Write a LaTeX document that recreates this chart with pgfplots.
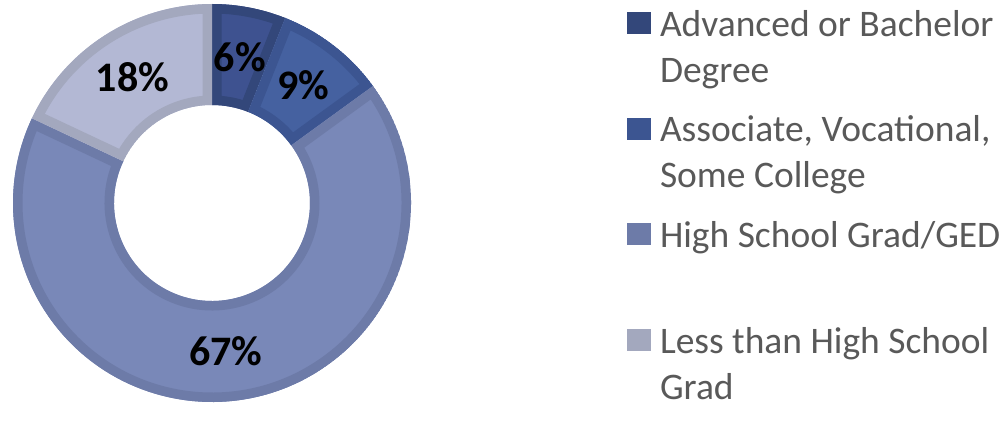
\documentclass[border=0pt]{standalone}
\usepackage{pgfplots}
\pgfplotsset{compat=1.18}
\usepackage{pgfplotstable}
\usepackage{fontspec}
\setmainfont{Carlito}
\definecolor{fill0}{HTML}{3E5290}
\definecolor{edge0}{HTML}{33477A}
\definecolor{fill1}{HTML}{4561A0}
\definecolor{edge1}{HTML}{3C5591}
\definecolor{fill2}{HTML}{7988B8}
\definecolor{edge2}{HTML}{6D7BA8}
\definecolor{fill3}{HTML}{B3B8D4}
\definecolor{edge3}{HTML}{A3A8BE}
\definecolor{textgray}{HTML}{595959}
\pgfplotstableread{
value
6
9
67
18
}\ringdata
\begin{document}
\begin{tikzpicture}
\begin{axis}[
  x=1pt, y=1pt, xmin=0, xmax=1003, ymin=0, ymax=404,
  scale only axis, hide axis, clip=false,
  legend style={draw=none, fill=none, at={(axis cs:627,400)}, anchor=north west,
    inner sep=0pt, outer sep=0pt, row sep=72pt, column sep=9pt,
    font=\fontsize{37.5}{46}\selectfont, text=textgray, nodes={inner sep=0pt}},
  legend cell align=left,
  legend image code/.code={\fill[#1, draw=none] (0pt,-13pt) rectangle (24pt,9pt);},
]
\path (axis cs:0,0) rectangle (axis cs:1003,404);
\pgfplotstablegetrowsof{\ringdata}
\pgfmathtruncatemacro\lastrow{\pgfplotsretval-1}
\def\cum{0}
\pgfplotsforeachungrouped \i in {0,...,\lastrow}{%
  \pgfplotstablegetelem{\i}{value}\of\ringdata
  \let\val\pgfplotsretval
  \pgfmathsetmacro\sa{90-3.6*\cum}
  \pgfmathsetmacro\ea{90-3.6*(\cum+\val)}
  \pgfmathsetmacro\ma{(\sa+\ea)/2}
  \pgfmathsetmacro\cum{\cum+\val}
  \pgfmathsetmacro\xo{212+199*cos(\sa)}
  \pgfmathsetmacro\yo{201+199*sin(\sa)}
  \pgfmathsetmacro\xin{212+98*cos(\ea)}
  \pgfmathsetmacro\yin{201+98*sin(\ea)}
  \pgfmathsetmacro\xl{212+148.5*cos(\ma)}
  \pgfmathsetmacro\yl{201+148.5*sin(\ma)}
  \edef\doit{%
    \noexpand\begin{scope}
    \noexpand\clip (axis cs:\xo,\yo) arc[start angle=\sa,end angle=\ea,radius=199pt] -- (axis cs:\xin,\yin) arc[start angle=\ea,end angle=\sa,radius=98pt] -- cycle;
    \noexpand\path[fill=fill\i,draw=edge\i,line width=19pt] (axis cs:\xo,\yo) arc[start angle=\sa,end angle=\ea,radius=199pt] -- (axis cs:\xin,\yin) arc[start angle=\ea,end angle=\sa,radius=98pt] -- cycle;
    \noexpand\end{scope}
    \noexpand\node[font=\noexpand\fontsize{42}{50}\noexpand\selectfont\noexpand\bfseries, text=black] at (axis cs:\xl,\yl) {\val\noexpand\%};
  }\doit
}
\addlegendimage{fill=edge0}
\addlegendentry{\begin{tabular}[t]{@{}l@{}}Advanced or Bachelor\\Degree\end{tabular}}
\addlegendimage{fill=edge1}
\addlegendentry{\begin{tabular}[t]{@{}l@{}}Associate, Vocational,\\Some College\end{tabular}}
\addlegendimage{fill=edge2}
\addlegendentry{\begin{tabular}[t]{@{}l@{}}High School Grad/GED\\\mbox{}\end{tabular}}
\addlegendimage{fill=edge3}
\addlegendentry{\begin{tabular}[t]{@{}l@{}}Less than High School\\Grad\end{tabular}}
\end{axis}
\end{tikzpicture}
\end{document}
